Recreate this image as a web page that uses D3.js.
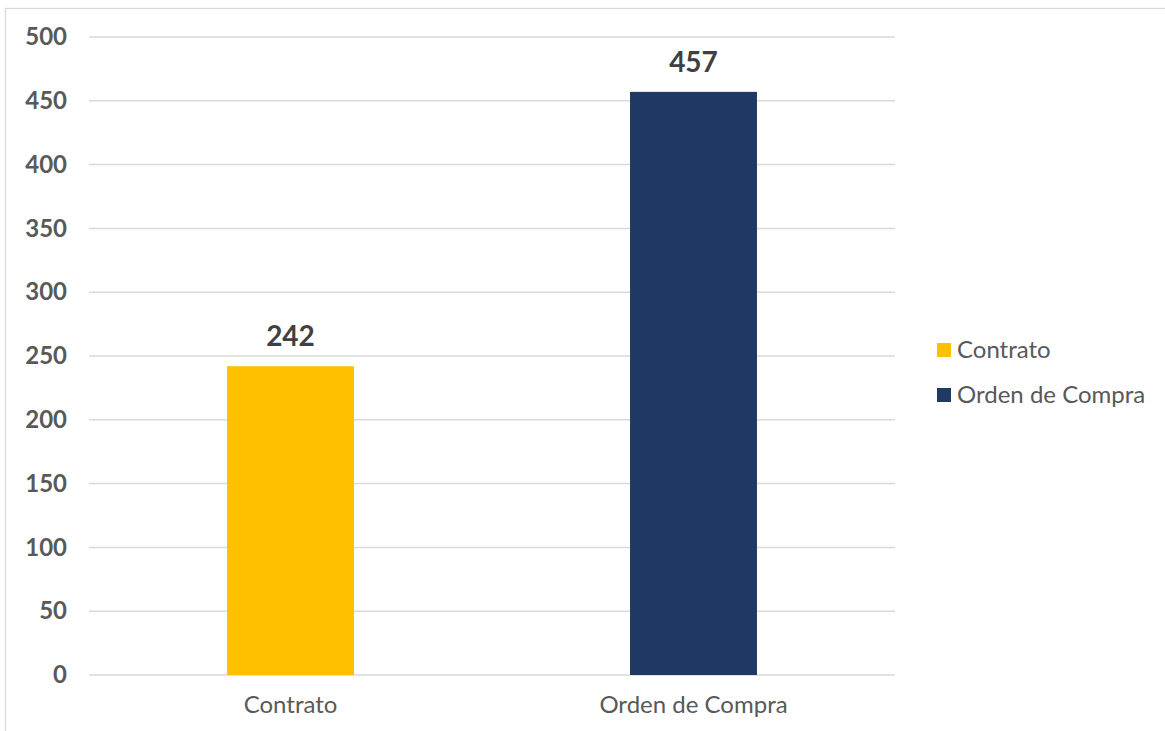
<!DOCTYPE html>
<html>
<head>
<meta charset="utf-8">
<script src="https://cdn.jsdelivr.net/npm/d3@7"></script>
<style>
  body { margin: 0; background: #fff; }
  svg { display: block; }
</style>
</head>
<body>
<div id="chart"></div>
<script>
const categories = ["Contrato", "Orden de Compra"];
const values = [242, 457];
const colors = ["#FFC000", "#203864"];
const yTicks = [0, 50, 100, 150, 200, 250, 300, 350, 400, 450, 500];

const W = 1165, H = 731;
const margin = { top: 37, left: 89, right: 270, bottom: 56 };
const plotW = 895 - margin.left, plotH = 675 - margin.top;
const font = "Lato, 'Open Sans', sans-serif";

const svg = d3.select("#chart").append("svg")
    .attr("width", W).attr("height", H);

// outer chart border, runs off the page right and bottom
svg.append("rect")
    .attr("x", 5.5).attr("y", 8.5)
    .attr("width", W + 10).attr("height", H + 10)
    .attr("fill", "none").attr("stroke", "#d9d9d9").attr("stroke-width", 1.3);

const g = svg.append("g").attr("transform", `translate(${margin.left},${margin.top})`);

const x = d3.scaleBand().domain(categories).range([0, plotW]).paddingInner(0).paddingOuter(0);
const y = d3.scaleLinear().domain([0, 500]).range([plotH, 0]);

// gridlines
g.selectAll(".grid").data(yTicks).enter().append("line")
    .attr("x1", 0).attr("x2", plotW)
    .attr("y1", d => y(d)).attr("y2", d => y(d))
    .attr("stroke", "#d9d9d9").attr("stroke-width", 1.5);

// y axis labels
const yAxis = g.append("g")
    .call(d3.axisLeft(y).tickValues(yTicks).tickSize(0).tickPadding(22));
yAxis.select(".domain").remove();
yAxis.selectAll("text")
    .style("font-family", font).style("font-size", "24px").style("font-weight", "bold")
    .attr("fill", "#595959");

// bars
const barW = x.bandwidth() * 0.315;
g.selectAll(".bar").data(categories).enter().append("rect")
    .attr("x", d => x(d) + (x.bandwidth() - barW) / 2)
    .attr("y", (d, i) => y(values[i]))
    .attr("width", barW)
    .attr("height", (d, i) => plotH - y(values[i]))
    .attr("fill", (d, i) => colors[i]);

// data labels
g.selectAll(".lbl").data(categories).enter().append("text")
    .attr("x", d => x(d) + x.bandwidth() / 2)
    .attr("y", (d, i) => y(values[i]) - 20)
    .attr("text-anchor", "middle")
    .style("font-family", font).style("font-size", "28px").style("font-weight", "bold")
    .attr("fill", "#404040")
    .text((d, i) => values[i]);

// x axis labels
const xAxis = g.append("g").attr("transform", `translate(0,${plotH})`)
    .call(d3.axisBottom(x).tickSize(0).tickPadding(21));
xAxis.select(".domain").remove();
xAxis.selectAll("text")
    .style("font-family", font).style("font-size", "24px")
    .attr("fill", "#595959");

// legend
const legend = svg.append("g").attr("transform", "translate(937,350)");
const item = legend.selectAll(".item").data(categories).enter().append("g")
    .attr("transform", (d, i) => `translate(0,${i * 45})`);
item.append("rect")
    .attr("x", 0).attr("y", -7).attr("width", 14).attr("height", 14)
    .attr("fill", (d, i) => colors[i]);
item.append("text")
    .attr("x", 20).attr("dy", "0.35em")
    .style("font-family", font).style("font-size", "24px")
    .attr("fill", "#595959")
    .text(d => d);
</script>
</body>
</html>
